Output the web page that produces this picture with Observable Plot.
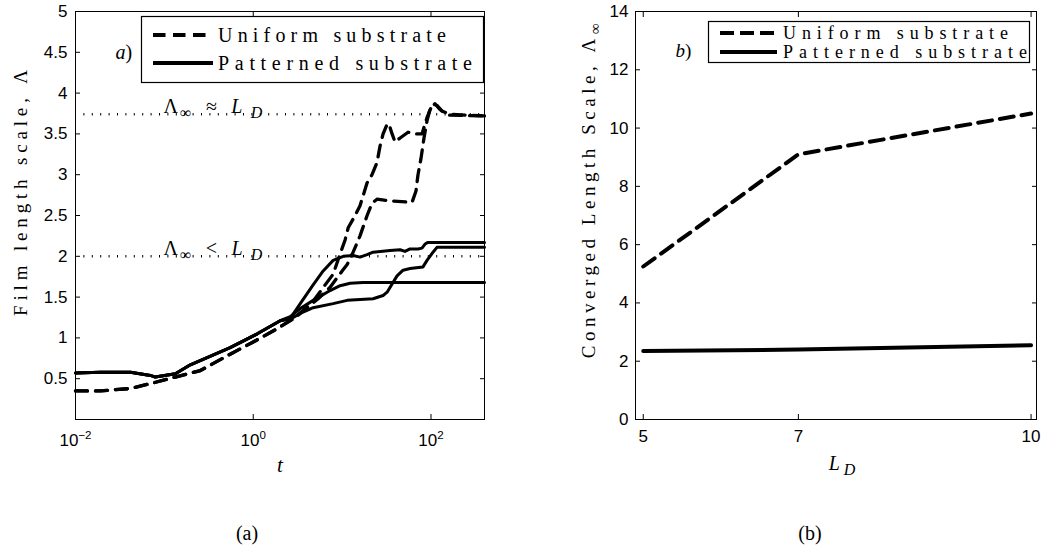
<!DOCTYPE html>
<html>
<head>
<meta charset="utf-8">
<script src="https://cdn.jsdelivr.net/npm/d3@7"></script>
<script src="https://cdn.jsdelivr.net/npm/@observablehq/plot@0.6"></script>
<style>
  html, body { margin: 0; padding: 0; background: #fff; }
  #wrap { position: relative; width: 1050px; height: 552px; background: #fff; overflow: hidden; }
  .panel { position: absolute; top: 0; }
  .cap { position: absolute; font-family: 'Liberation Serif', 'Times New Roman', serif; font-size: 20px; line-height: 20px; color: #000; transform: translateX(-50%); white-space: nowrap; }
</style>
</head>
<body>
<div id="wrap">
  <div id="pa" class="panel" style="left:0px"></div>
  <div id="pb" class="panel" style="left:525px"></div>
  <div class="cap" style="left:247px; top:523px">(a)</div>
  <div class="cap" style="left:810px; top:523px">(b)</div>
</div>
<script>
// ---------------- data ----------------
const seriesNames = ["Uniform substrate", "Patterned substrate"];

// panel (a): film length scale vs time t
const tUniform1 = [0.01, 0.0191, 0.0415, 0.0697, 0.133, 0.254, 0.55, 1.0, 1.77, 2.97, 4.72, 6.44, 7.92, 9.5, 10.8, 11.7, 14.0, 15.9, 19.1, 21.7, 24.7, 26.7, 28.9, 32.1, 33.7, 36.5, 39.4, 44.9, 55.2, 66.1, 79.2, 90.2, 102.6, 116.7, 133, 163, 400];
const lamUniform1 = [0.35, 0.35, 0.38, 0.44, 0.52, 0.60, 0.80, 0.95, 1.10, 1.25, 1.45, 1.65, 1.78, 2.03, 2.20, 2.35, 2.50, 2.62, 2.90, 3.00, 3.15, 3.35, 3.50, 3.62, 3.62, 3.50, 3.40, 3.45, 3.52, 3.50, 3.50, 3.70, 3.85, 3.85, 3.78, 3.74, 3.72];

const tUniform2 = [0.01, 0.0191, 0.0415, 0.0697, 0.133, 0.254, 0.55, 1.0, 1.77, 2.97, 3.84, 5.37, 7.33, 10.0, 11.4, 13.3, 15.9, 19.1, 21.7, 24.7, 34.6, 61.2, 67.8, 71.4, 77.2, 83.4, 90.2, 97.4, 110.9, 126, 155, 400];
const lamUniform2 = [0.35, 0.35, 0.38, 0.44, 0.52, 0.60, 0.80, 0.95, 1.10, 1.25, 1.35, 1.48, 1.62, 1.82, 1.90, 2.05, 2.25, 2.50, 2.65, 2.70, 2.68, 2.66, 2.80, 3.00, 3.20, 3.45, 3.66, 3.80, 3.87, 3.80, 3.73, 3.72];

const tPatterned1 = [0.01, 0.0191, 0.0415, 0.0697, 0.079, 0.133, 0.196, 0.55, 1.11, 2.01, 2.61, 3.38, 4.72, 6.12, 7.92, 10.3, 13.3, 15.9, 19.1, 22.3, 34.6, 44.9, 51.0, 58.1, 71.4, 79.2, 85.7, 92.5, 400];
const lamPatterned1 = [0.57, 0.58, 0.58, 0.54, 0.52, 0.56, 0.67, 0.88, 1.05, 1.21, 1.24, 1.42, 1.65, 1.82, 1.95, 2.00, 2.01, 1.99, 2.02, 2.05, 2.07, 2.08, 2.06, 2.09, 2.09, 2.10, 2.15, 2.17, 2.17];

const tPatterned2 = [0.01, 0.0191, 0.0415, 0.0697, 0.079, 0.133, 0.196, 0.55, 1.11, 2.01, 2.61, 3.38, 4.72, 7.92, 11.4, 22.3, 28.9, 32.1, 36.5, 41.5, 48.5, 58.1, 81.3, 90.2, 105.3, 116.7, 400];
const lamPatterned2 = [0.57, 0.58, 0.58, 0.54, 0.52, 0.56, 0.67, 0.88, 1.05, 1.21, 1.23, 1.30, 1.37, 1.42, 1.46, 1.48, 1.52, 1.56, 1.66, 1.76, 1.83, 1.85, 1.87, 1.95, 2.05, 2.11, 2.11];

const tPatterned3 = [0.01, 0.0191, 0.0415, 0.0697, 0.079, 0.133, 0.196, 0.55, 1.11, 2.01, 2.61, 3.38, 4.72, 7.33, 9.5, 12.3, 17.2, 400];
const lamPatterned3 = [0.57, 0.58, 0.58, 0.54, 0.52, 0.56, 0.67, 0.88, 1.05, 1.21, 1.26, 1.36, 1.46, 1.58, 1.64, 1.67, 1.68, 1.68];

const refLevels = [3.74, 2.0];
const refLabels = ["Λ∞ ≈ LD", "Λ∞ < LD"];
const tTicks = [0.01, 1, 100];
const lamTicks = [0.5, 1, 1.5, 2, 2.5, 3, 3.5, 4, 4.5, 5];

// panel (b): converged length scale vs L_D
const LD = [5, 7, 10];
const convUniform = [5.25, 9.1, 10.5];
const convPatterned = [2.35, 2.4, 2.55];
const ldTicks = [5, 7, 10];
const convTicks = [0, 2, 4, 6, 8, 10, 12, 14];

const yLabelA = "Film length scale, Λ";
const yLabelB = "Converged Length Scale, Λ∞";
const xLabelA = "t";
const xLabelB = "LD";

// ---------------- tables ----------------
const seriesA = [
  {kind: 0, t: tUniform1, lam: lamUniform1},
  {kind: 0, t: tUniform2, lam: lamUniform2},
  {kind: 1, t: tPatterned1, lam: lamPatterned1},
  {kind: 1, t: tPatterned2, lam: lamPatterned2},
  {kind: 1, t: tPatterned3, lam: lamPatterned3}
];
const rowsA = seriesA.flatMap((s, id) => s.t.map((t, i) => ({t, lam: s.lam[i], kind: s.kind, id})));
const rowsB = [
  ...LD.map((x, i) => ({x, y: convUniform[i], kind: 0})),
  ...LD.map((x, i) => ({x, y: convPatterned[i], kind: 1}))
];

const SERIF = "'Liberation Serif', 'Times New Roman', serif";
const SANS = "'Liberation Sans', Arial, Helvetica, sans-serif";
const baseStyle = {fontFamily: SANS, fontSize: "17px", color: "#000", background: "transparent", overflow: "visible"};

// ---------------- panel (a) ----------------
const plotA = Plot.plot({
  width: 525, height: 480,
  marginLeft: 75, marginRight: 41, marginTop: 11, marginBottom: 61,
  style: baseStyle,
  x: {type: "log", domain: [0.01, 400]},
  y: {domain: [0, 5]},
  marks: [
    Plot.ruleY(refLevels, {y: d => d, stroke: "#000", strokeWidth: 2.4, strokeDasharray: "1,7.4"}),
    Plot.text(refLevels, {x: 0.0975, y: d => d, text: (d, i) => refLabels[i], textAnchor: "start", lineAnchor: "bottom", dy: -1, fontFamily: SERIF, fontSize: 20}),
    Plot.line(rowsA.filter(d => d.kind === 1), {x: "t", y: "lam", z: "id", stroke: "#000", strokeWidth: 3, strokeLinejoin: "round"}),
    Plot.line(rowsA.filter(d => d.kind === 0), {x: "t", y: "lam", z: "id", stroke: "#000", strokeWidth: 3.3, strokeDasharray: "12,8"}),
    Plot.frame({stroke: "#000", strokeWidth: 1}),
    Plot.axisX({ticks: tTicks, tickSize: 0, tickPadding: 14, tickFormat: d => "10^" + Math.round(Math.log10(d)), label: null}),
    Plot.axisX({ticks: tTicks, tickSize: -5, fill: "none", label: null}),
    Plot.axisX({anchor: "top", ticks: tTicks, tickSize: -5, fill: "none", label: null}),
    Plot.axisY({ticks: lamTicks, tickSize: 0, tickPadding: 8, tickFormat: d => String(d), label: null}),
    Plot.axisY({ticks: lamTicks, tickSize: -5, fill: "none", label: null}),
    Plot.axisY({anchor: "right", ticks: lamTicks, tickSize: -5, fill: "none", label: null}),
    Plot.text([xLabelA], {text: d => d, frameAnchor: "bottom", dy: 46, textAnchor: "middle", lineAnchor: "middle", fontFamily: SERIF, fontStyle: "italic", fontSize: 21}),
    Plot.text([yLabelA], {text: d => d, frameAnchor: "left", dx: -55, dy: -25, rotate: -90, textAnchor: "middle", lineAnchor: "middle", fontFamily: SERIF, fontSize: 19}),
    Plot.text(["a)"], {text: d => d, frameAnchor: "top-left", dx: 40, dy: 41, textAnchor: "start", lineAnchor: "middle", fontFamily: SERIF, fontSize: 20})
  ]
});
document.getElementById("pa").appendChild(plotA);

// ---------------- panel (b) ----------------
const plotB = Plot.plot({
  width: 525, height: 480,
  marginLeft: 110, marginRight: 14, marginTop: 11, marginBottom: 61,
  style: baseStyle,
  x: {domain: [4.9, 10.07]},
  y: {domain: [0, 14]},
  marks: [
    Plot.line(rowsB.filter(d => d.kind === 0), {x: "x", y: "y", stroke: "#000", strokeWidth: 4, strokeDasharray: "14,8"}),
    Plot.line(rowsB.filter(d => d.kind === 1), {x: "x", y: "y", stroke: "#000", strokeWidth: 4}),
    Plot.frame({stroke: "#000", strokeWidth: 1}),
    Plot.axisX({ticks: ldTicks, tickSize: 0, tickPadding: 10, tickFormat: d => String(d), label: null}),
    Plot.axisX({ticks: ldTicks, tickSize: -5, fill: "none", label: null}),
    Plot.axisX({anchor: "top", ticks: ldTicks, tickSize: -5, fill: "none", label: null}),
    Plot.axisY({ticks: convTicks, tickSize: 0, tickPadding: 7, tickFormat: d => String(d), label: null}),
    Plot.axisY({ticks: convTicks, tickSize: -5, fill: "none", label: null}),
    Plot.axisY({anchor: "right", ticks: convTicks, tickSize: -5, fill: "none", label: null}),
    Plot.text([xLabelB], {text: d => d, frameAnchor: "bottom", dx: 6, dy: 44, textAnchor: "middle", lineAnchor: "middle", fontFamily: SERIF, fontSize: 20}),
    Plot.text([yLabelB], {text: d => d, frameAnchor: "left", dx: -47, dy: -27, rotate: -90, textAnchor: "middle", lineAnchor: "middle", fontFamily: SERIF, fontSize: 19}),
    Plot.text(["b)"], {text: d => d, frameAnchor: "top-left", dx: 40, dy: 39, textAnchor: "start", lineAnchor: "middle", fontFamily: SERIF, fontSize: 19})
  ]
});
document.getElementById("pb").appendChild(plotB);

// ---------------- rich text (sub/superscripts, italics, tracking) ----------------
const NS = "http://www.w3.org/2000/svg";
const RICH = {
  "Λ∞ ≈ LD": [["Λ", ""], ["∞", "s"], ["\u2002≈\u2002", ""], ["L", "i"], ["\u2009", ""], ["D", "is"]],
  "Λ∞ < LD": [["Λ", ""], ["∞", "s"], ["\u2002<\u2002", ""], ["L", "i"], ["\u2009", ""], ["D", "is"]],
  "Converged Length Scale, Λ∞": [["Converged Length Scale, Λ", ""], ["∞", "s"]],
  "LD": [["L", "i"], ["\u2009", ""], ["D", "is"]],
  "a)": [["a", "i"], [")", ""]],
  "b)": [["b", "i"], [")", ""]]
};
// target extents (px) of the letter-spaced texts
const TRACK = {
  "Film length scale, Λ": 246,
  "Converged Length Scale, Λ∞": 335,
  "Λ∞ ≈ LD": 99,
  "Λ∞ < LD": 99
};
function applyRich(root) {
  root.querySelectorAll("text").forEach(el => {
    if (el.querySelector("tspan")) return;
    const key = el.textContent;
    let parts = RICH[key];
    const m = /^10\^(-?\d+)$/.exec(key);
    if (m) parts = [["10", ""], [m[1].replace("-", "−"), "p"]];
    if (parts) {
      el.textContent = "";
      let shift = 0;
      for (const [s, f] of parts) {
        const ts = document.createElementNS(NS, "tspan");
        ts.textContent = s;
        const target = f.includes("s") ? 5 : f.includes("p") ? -7 : 0;
        if (target !== shift) { ts.setAttribute("dy", target - shift); shift = target; }
        if (f.includes("i")) ts.setAttribute("font-style", "italic");
        if (f.includes("s") || f.includes("p")) ts.setAttribute("font-size", f.includes("p") ? "0.68em" : "0.8em");
        el.appendChild(ts);
      }
    }
    if (TRACK[key]) {
      const natural = el.getComputedTextLength();
      const n = el.textContent.length;
      const ls = Math.max(0, (TRACK[key] - natural) / (n - 1));
      el.style.letterSpacing = ls + "px";
    }
  });
}
applyRich(plotA);
applyRich(plotB);

// ---------------- legends ----------------
function legend(cfg) {
  const svg = d3.select("#wrap").append("svg")
    .attr("width", cfg.w + 2).attr("height", cfg.h + 2)
    .style("position", "absolute").style("left", cfg.left + "px").style("top", cfg.top + "px")
    .style("overflow", "visible");
  svg.append("rect").attr("x", 0.5).attr("y", 0.5).attr("width", cfg.w).attr("height", cfg.h)
    .attr("fill", "#fff").attr("stroke", "#000").attr("stroke-width", 1.2);
  seriesNames.forEach((name, i) => {
    const y = cfg.rowY[i];
    svg.append("line").attr("x1", cfg.x1).attr("x2", cfg.x2).attr("y1", y).attr("y2", y)
      .attr("stroke", "#000").attr("stroke-width", cfg.sw)
      .attr("stroke-dasharray", i === 0 ? cfg.dash : null);
    svg.append("text").attr("x", cfg.tx).attr("y", y).attr("dy", "0.35em")
      .attr("font-family", SERIF).attr("font-size", cfg.fs)
      .attr("textLength", cfg.len[i]).attr("lengthAdjust", "spacing")
      .attr("fill", "#000").text(name);
  });
}
legend({left: 141, top: 16, w: 342, h: 66, rowY: [19, 47], x1: 12, x2: 72, tx: 77, sw: 4, dash: "12.5,7.5", fs: 20, len: [228, 254]});
legend({left: 708, top: 21, w: 321, h: 41, rowY: [12, 31], x1: 12, x2: 69, tx: 75, sw: 4, dash: "14,6", fs: 18, len: [225, 244]});
</script>
</body>
</html>
